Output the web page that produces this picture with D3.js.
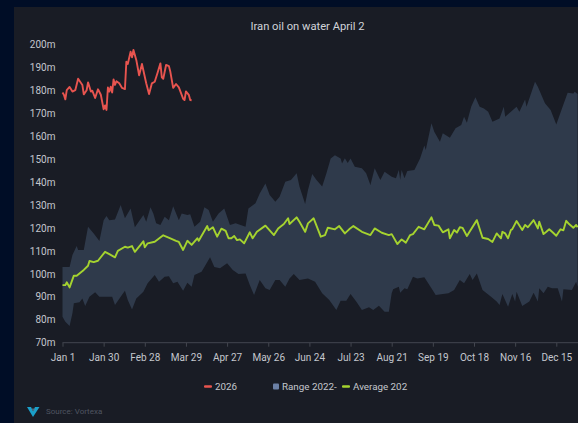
<!DOCTYPE html>
<html>
<head>
<meta charset="utf-8">
<script src="https://cdn.jsdelivr.net/npm/d3@7"></script>
<style>
    html, body { margin: 0; padding: 0; background: #000d26; overflow: hidden; }
    svg { display: block; font-family: Roboto, sans-serif; }
    .axis text { fill: #c4c7cd; font-size: 10px; font-family: Roboto, sans-serif; }
    .axis line, .axis path { stroke: #43464f; }
</style>
</head>
<body>
<svg id="chart" width="578" height="423"></svg>
<script>
// values: day of year (Jan 1 = 0) and barrels
const tickDays = [0, 29, 58, 87, 116, 145, 174, 203, 232, 261, 290, 319, 348];
const tickLabels = ['Jan 1', 'Jan 30', 'Feb 28', 'Mar 29', 'Apr 27', 'May 26', 'Jun 24', 'Jul 23', 'Aug 21', 'Sep 19', 'Oct 18', 'Nov 16', 'Dec 15'];
const yTicks = [70, 80, 90, 100, 110, 120, 130, 140, 150, 160, 170, 180, 190, 200];

const days2026 = [0,1,2,3,5,7,9,11,14,15,17,18,20,21,23,25,27,29,30,31,32,33,34,35,36,37,38,40,42,44,45,46,48,49,50,52,54,56,59,61,63,65,67,69,70,71,73,75,76,78,80,82,85,86,87,89,90,91];
const values2026 = [179,178,176,180,181.4,179.4,180,185,182.3,178.2,180,183.4,179.4,179.8,176.6,180.4,178,171.7,173.4,171.4,181.2,179.4,181.5,179,184.7,182.3,183.9,183,181,180.5,192.4,191.4,196.8,194.3,197.5,193.2,186.5,191.4,183,178.3,183,183.7,187.6,191.7,185.6,185,191,190.5,188,181,182.7,181.2,176.3,175.7,179.5,178,175.7,175.6];

const daysHigh = [0,5,7,10,11,15,18,22,26,29,31,33,37,41,44,48,51,57,59,62,64,66,69,72,75,78,82,84,88,90,93,97,100,103,106,110,114,118,122,129,131,136,139,143,146,150,153,157,161,165,167,171,173,176,179,183,186,189,192,196,197,199,201,203,206,211,214,217,220,224,227,232,235,237,238,239,241,243,248,252,255,256,260,262,266,268,273,277,281,283,285,288,291,294,297,300,303,308,311,312,316,320,322,326,327,329,333,335,340,344,348,352,356,360,361,363];
const valuesHigh = [103,103,108.2,112.1,110.4,110.4,120.5,117.6,114.3,123.4,125.2,123.4,123.7,130,124.2,128.5,120.3,125.6,122.7,129,126.3,122,121.3,124.9,123.4,129.5,123.4,126.3,125.6,126,120.5,122.7,129,127.8,122.7,126.3,128.5,121.3,122,120.5,128.5,130.7,135,139.4,134.3,131.4,133.6,140.1,140.9,143.8,138,130.4,136.5,143.5,140.9,138,143.8,150.3,151.7,150.3,148.1,150.4,148.3,150.3,146.7,146,143.8,138.7,146,140.9,144.5,142.3,141.6,145.2,141,145.2,141.6,144.8,145.2,150.3,155.9,153.9,165.6,161.9,157.5,161.2,159.3,163.4,164.8,168.4,165.8,172.8,176.9,172.8,172,170.6,166.3,167.7,172.8,168.4,170.6,172.8,170.6,176,172.8,176.4,183.7,181.5,174.3,171.4,165.1,172,178.9,178.6,179.3,178.3];

const daysLow = [0,2,5,7,8,12,14,16,19,23,26,32,35,37,41,44,46,49,52,57,60,65,68,72,75,78,81,85,88,91,93,98,100,104,107,111,116,120,124,129,132,135,139,143,146,150,153,157,160,163,167,173,178,183,188,193,196,200,203,207,211,216,219,223,227,230,232,233,237,238,241,243,247,250,255,260,263,272,276,280,283,287,289,292,296,302,306,308,310,314,317,319,320,324,329,332,335,336,339,342,345,349,352,353,359,362,363];
const valuesLow = [81.3,79.1,77.3,82.8,87.2,87.6,89.3,86,90,92,90,90,90,86.4,90,92.6,88.6,84.5,89.3,92.2,95.9,99.5,96.6,98.7,99,95.9,96.6,92.6,96.1,94.4,99.5,100.9,103,107.2,103,102.4,104.6,101.7,99.9,100.2,95.1,90.8,97.3,93.7,93,97.3,97.3,94.4,98,99.9,97.3,98,96.6,91.5,88.6,84.2,88.3,88.3,91.2,87.9,84.2,85.4,84.2,86.1,83.5,83.5,91.5,93.3,94.4,91.8,93.7,93.3,98.7,98,98.5,93.7,90.8,91.5,93,97.3,95.9,99.9,97.3,100.2,93,90,87.9,86.4,91.2,85.7,91.2,87.9,92.2,86,87.9,91.8,87.9,93.7,91.5,94.4,93.7,93.7,87.9,93.3,93,96.6,94.4];

const daysAvg = [0,2,3,5,8,10,15,18,19,22,25,30,33,37,39,44,46,49,51,55,57,58,60,65,71,76,80,82,85,88,91,95,96,102,103,106,109,112,115,117,119,121,123,125,128,132,134,137,143,149,152,156,159,160,165,167,171,173,177,182,185,187,192,195,199,202,205,211,217,220,225,230,232,236,239,242,245,247,251,255,260,262,265,268,272,273,276,278,280,282,285,292,296,300,303,306,309,310,312,314,316,317,320,324,326,328,332,335,336,339,341,343,345,348,351,353,355,357,360,362,363];
const valuesAvg = [95.1,95.1,96.3,94.1,99.2,99.2,101.7,103.5,105.6,105.1,105.7,109.6,108.6,107.2,110,111.8,111.4,112.1,109.6,112.6,114.2,111.6,113.3,114,116.8,115.5,114.4,113.9,110.4,114.4,112.6,115.5,114.4,120.8,119,120.3,116.2,119.7,118.7,115.5,115.5,116.5,114.7,115,113.3,118.1,115.5,118.3,121,116.9,119.8,121.7,124.2,121.7,124.6,122.7,118.3,122,124.2,116.2,116.9,120.1,119.4,120.8,117.6,119.4,120.8,118.3,116.9,119.8,117.9,116.9,117.3,113,115,113.6,116.9,117.3,120.5,119.4,124.6,121.3,121,118.1,119.4,115.5,119.1,118,120.3,120,116.5,123.4,115.7,115.2,113.9,117.6,115.5,118.3,117.6,115.5,119.1,119.5,123,119.1,121.3,120.3,123.4,119.8,122.7,117.3,118.3,119.4,118.3,116.6,119.4,119,123.1,121.7,120.1,121.3,120.3];

const legendItems = [
    {label: '2026', color: '#e8544f', x: 204, kind: 'line'},
    {label: 'Range 2022-', color: '#6b80a6', x: 273, kind: 'square'},
    {label: 'Average 202', color: '#a5d32f', x: 342, kind: 'line'}
];

window.addEventListener('load', () => {
    const svg = d3.select('#chart');

    svg.append('rect')
        .attr('x', 14).attr('y', 7)
        .attr('width', 564).attr('height', 416)
        .attr('fill', '#191c25');

    const x = d3.scaleLinear().domain([0, 348]).range([62.5, 556.3]);
    const y = d3.scaleLinear().domain([70, 200]).range([342.7, 44.3]);

    const zip = (days, values) => days.map((d, i) => ({d: d, v: values[i]}));
    const line = d3.line().x(p => x(p.d)).y(p => y(p.v));

    // band outline: along the top going right, back along the bottom
    let band = zip(daysHigh, valuesHigh).concat(zip(daysLow, valuesLow).reverse());
    svg.append('path')
        .attr('d', line(band) + 'Z')
        .attr('fill', '#2f3a4b');

    svg.append('path')
        .attr('d', line(zip(daysAvg, valuesAvg)))
        .attr('fill', 'none')
        .attr('stroke', '#a5d32f')
        .attr('stroke-width', 1.9)
        .attr('stroke-linejoin', 'round');

    svg.append('path')
        .attr('d', line(zip(days2026, values2026)))
        .attr('fill', 'none')
        .attr('stroke', '#e8544f')
        .attr('stroke-width', 1.9)
        .attr('stroke-linejoin', 'round');

    let xaxis = svg.append('g')
        .attr('class', 'axis')
        .attr('transform', 'translate(0,342.7)')
        .call(d3.axisBottom(x)
            .tickValues(tickDays)
            .tickFormat((d, i) => tickLabels[i])
            .tickSize(4)
            .tickSizeOuter(0)
            .tickPadding(7));
    xaxis.select('.domain').attr('d', 'M62.5,0H578');

    let yaxis = svg.append('g')
        .attr('class', 'axis')
        .attr('transform', 'translate(62.5,0)')
        .call(d3.axisLeft(y)
            .tickValues(yTicks)
            .tickFormat(d => d + 'm')
            .tickSize(0)
            .tickPadding(7));
    yaxis.select('.domain').remove();

    svg.append('text')
        .attr('x', 307.5).attr('y', 30)
        .attr('text-anchor', 'middle')
        .attr('fill', '#d0d3d8')
        .attr('font-size', 11.2)
        .text('Iran oil on water April 2');

    for (let item of legendItems) {
        if (item.kind == 'line') {
            svg.append('rect')
                .attr('x', item.x).attr('y', 385.3)
                .attr('width', 8).attr('height', 2.4)
                .attr('rx', 1)
                .attr('fill', item.color);
        } else {
            svg.append('rect')
                .attr('x', item.x).attr('y', 383.5)
                .attr('width', 6).attr('height', 6)
                .attr('rx', 1)
                .attr('fill', item.color);
        }
        svg.append('text')
            .attr('x', item.x + (item.kind == 'line' ? 11 : 9)).attr('y', 390)
            .attr('fill', '#c4c7cd')
            .attr('font-size', 9.8)
            .text(item.label);
    }

    // vortexa logo
    svg.append('path')
        .attr('d', 'M27,407 L31,407 L33,411 L35,407 L39.5,407 L33,417 Z')
        .attr('fill', '#1a9fc9');
    svg.append('path')
        .attr('d', 'M31.5,408.5 L35,408.5 L33.2,411.5 Z')
        .attr('fill', '#5a6a7a');

    svg.append('text')
        .attr('x', 46).attr('y', 414)
        .attr('fill', '#4f5460')
        .attr('font-size', 8)
        .text('Source: Vortexa');
});
</script>
</body>
</html>
